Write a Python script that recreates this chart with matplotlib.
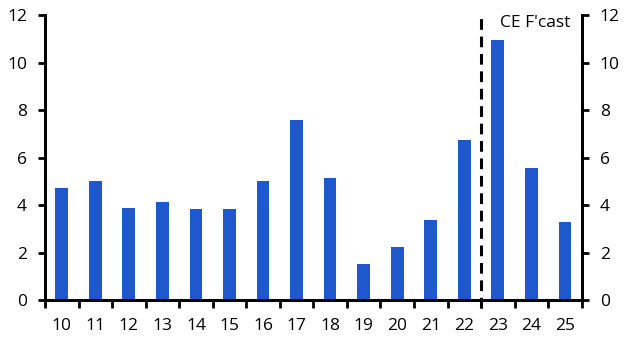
import numpy as np
import matplotlib.pyplot as plt
from matplotlib.ticker import FixedLocator, MultipleLocator

plt.rcParams['font.family'] = ['Open Sans', 'DejaVu Sans']

years = ['10', '11', '12', '13', '14', '15', '16', '17', '18', '19', '20', '21', '22', '23', '24', '25']
values = [4.70, 5.01, 3.87, 4.13, 3.83, 3.83, 5.01, 7.58, 5.12, 1.52, 2.23, 3.37, 6.74, 10.95, 5.56, 3.28]
forecast_start = '23'
bar_color = '#1f57cc'

fig = plt.figure(figsize=(6.27, 3.45), dpi=100)
ax = fig.add_axes([0.0718, 0.1304, 0.8559, 0.8261])

x = np.arange(len(years))
ax.bar(x, values, width=0.38, color=bar_color, zorder=3)

ax.set_xlim(-0.5, len(years) - 0.5)
ax.set_ylim(0, 12)
ax.yaxis.set_major_locator(MultipleLocator(2))

# labels under the bars, ticks between them
ax.set_xticks(x)
ax.set_xticklabels(years)
ax.xaxis.set_minor_locator(FixedLocator(np.arange(-0.5, len(years), 1)))
ax.tick_params(axis='x', which='major', length=0, pad=13, labelsize=12.5)
ax.tick_params(axis='x', which='minor', length=6, width=2, direction='out')
ax.tick_params(axis='y', length=5, width=2, labelsize=12.5, pad=8)

# right-hand axis, same scale
ax2 = ax.twinx()
ax2.set_ylim(ax.get_ylim())
ax2.yaxis.set_major_locator(MultipleLocator(2))
ax2.tick_params(axis='y', length=5, width=2, labelsize=12.5, pad=8)

for a in (ax, ax2):
    for side in ['left', 'right', 'bottom']:
        a.spines[side].set_linewidth(2)
    a.spines['top'].set_visible(False)

# forecast divider
xd = years.index(forecast_start) - 0.5
ax.plot([xd, xd], [-0.35, 12.1], color='black', linestyle=(0, (3.5, 2.2)),
        linewidth=2.2, clip_on=False, zorder=4)
ax.text(len(years) - 0.85, 11.65, "CE F'cast", ha='right', va='center', fontsize=12.5)

plt.savefig('out.png', dpi=100)
